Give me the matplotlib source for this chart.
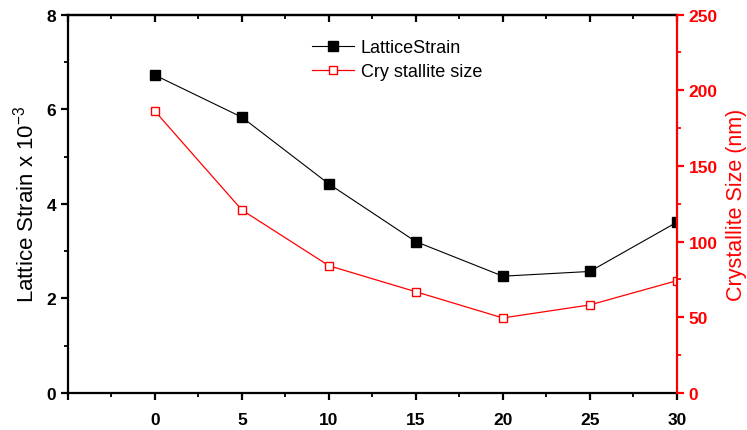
import numpy as np
import matplotlib.pyplot as plt

plt.rcParams['font.family'] = ['Liberation Sans', 'DejaVu Sans']

# data
conc = [0, 5, 10, 15, 20, 25, 30]
strain = [6.72, 5.83, 4.42, 3.20, 2.47, 2.57, 3.61]
cryst = [186.2, 120.9, 84.1, 66.9, 49.6, 58.2, 74.2]

xticks = [-5, 0, 5, 10, 15, 20, 25, 30]
xticklabels = ['', '0', '5', '10', '15', '20', '25', '30']

fig = plt.figure(figsize=(7.47, 4.31), dpi=100)
ax = fig.add_axes([0.091, 0.0858, 0.815, 0.878])
ax2 = ax.twinx()

l1, = ax.plot(conc, strain, color='black', lw=0.8, marker='s', ms=6.5,
              mfc='black', mec='black', label='LatticeStrain')
l2, = ax2.plot(conc, cryst, color='red', lw=0.9, marker='s', ms=6,
               mfc='white', mec='red', mew=1.0, label='Cry stallite size')

ax.set_xlim(-5, 30)
ax.set_ylim(0, 8)
ax2.set_ylim(0, 250)

ax.set_xticks(xticks)
ax.set_xticklabels(xticklabels)
ax.set_xticks(np.arange(-2.5, 30, 5), minor=True)
ax.set_yticks([0, 2, 4, 6, 8])
ax.set_yticks([1, 3, 5, 7], minor=True)
ax2.set_yticks([0, 50, 100, 150, 200, 250])
ax2.set_yticks([25, 75, 125, 175, 225], minor=True)

for s in ['left', 'bottom', 'top']:
    ax.spines[s].set_linewidth(1.6)
ax.spines['right'].set_visible(False)
for s in ['left', 'bottom', 'top']:
    ax2.spines[s].set_visible(False)
ax2.spines['right'].set_color('red')
ax2.spines['right'].set_linewidth(1.6)

ax.tick_params(axis='both', which='major', direction='out', length=5, width=1.6,
               labelsize=12.5)
ax.tick_params(axis='x', which='major', pad=9)
ax.tick_params(axis='both', which='minor', direction='out', length=3, width=1.3)
for lab in ax.get_xticklabels() + ax.get_yticklabels():
    lab.set_fontweight('bold')

top = ax.secondary_xaxis('top')
top.set_xticks(xticks)
top.set_xticks(np.arange(-2.5, 30, 5), minor=True)
top.tick_params(which='major', direction='in', length=5, width=1.6, labeltop=False)
top.tick_params(which='minor', direction='in', length=3, width=1.3)
top.spines['top'].set_linewidth(1.6)

ax2.tick_params(axis='y', which='major', direction='out', length=5, width=1.6,
                colors='red', labelsize=12.5)
ax2.tick_params(axis='y', which='minor', direction='out', length=3, width=1.3,
                colors='red')
for lab in ax2.get_yticklabels():
    lab.set_fontweight('bold')

ax.set_ylabel('Lattice Strain x 10$^{\\mathregular{-3}}$', fontsize=16, labelpad=6)
ax2.set_ylabel('Crystallite Size (nm)', fontsize=15.5, color='red', labelpad=6)

ax.legend(handles=[l1, l2], loc='upper left', bbox_to_anchor=(0.418, 0.907),
          bbox_transform=fig.transFigure, frameon=False, fontsize=13,
          handlelength=2.3, handletextpad=0.4, labelspacing=0.4,
          borderpad=0, borderaxespad=0)

fig.savefig('out.png', dpi=100)
